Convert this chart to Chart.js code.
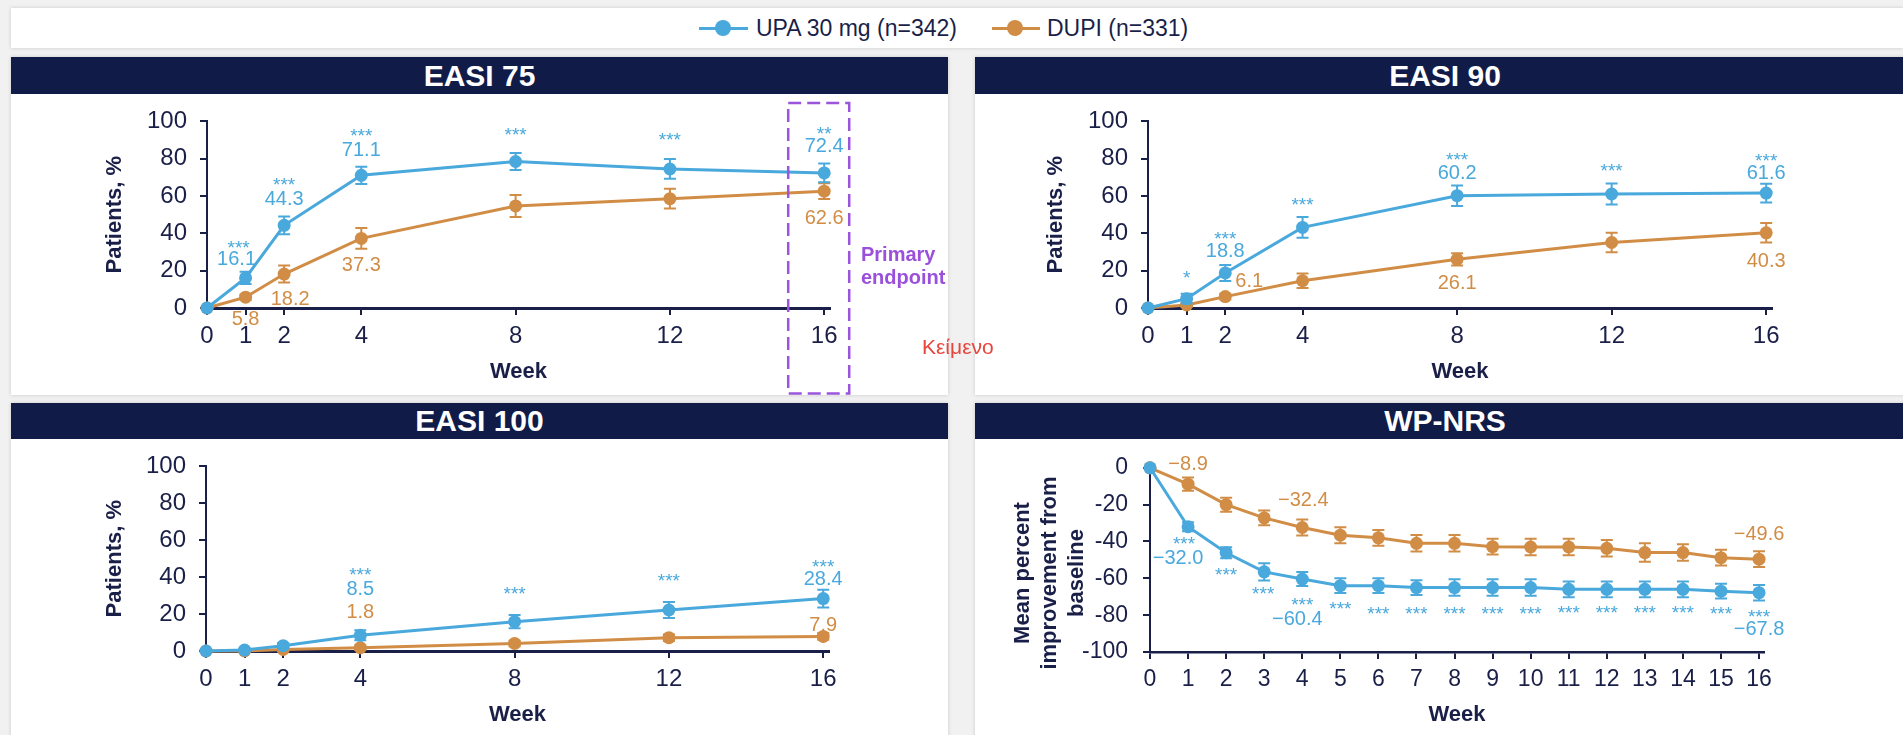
<!DOCTYPE html>
<html>
<head>
<meta charset="utf-8">
<script src="https://cdn.jsdelivr.net/npm/chart.js@4.4.1/dist/chart.umd.min.js"></script>
<style>
html,body{margin:0;padding:0;}
body{width:1903px;height:735px;background:#f1f1f1;position:relative;overflow:hidden;font-family:"Liberation Sans",Arial,Helvetica,sans-serif;}
.box{position:absolute;background:#fff;box-shadow:0 0 4px rgba(0,0,0,0.16);}
.hdr{position:absolute;left:0;top:0;right:0;background:#101c47;color:#fff;font-weight:bold;font-size:30px;text-align:center;}
canvas{position:absolute;}
.leg{position:absolute;color:#1a1f48;font-size:23px;line-height:40px;top:8px;white-space:nowrap;}
.legline{position:absolute;height:3px;top:27px;}
.legdot{position:absolute;width:16px;height:16px;border-radius:50%;top:20px;}
.note{position:absolute;white-space:nowrap;}
</style>
</head>
<body>
<div class="box" style="left:11px;top:8px;width:1892px;height:40px;"></div>
<div class="legline" style="left:699px;width:49px;background:#49a8dc;"></div>
<div class="legdot" style="left:715px;background:#49a8dc;"></div>
<div class="leg" id="legUpa" style="left:756px;"></div>
<div class="legline" style="left:992px;width:48px;background:#d18d45;"></div>
<div class="legdot" style="left:1007px;background:#d18d45;"></div>
<div class="leg" id="legDupi" style="left:1047px;"></div>

<div class="box" style="left:11px;top:57px;width:937px;height:338px;"><div class="hdr" style="height:37px;line-height:37px;">EASI 75</div></div>
<div class="box" style="left:975px;top:57px;width:940px;height:338px;"><div class="hdr" style="height:37px;line-height:37px;">EASI 90</div></div>
<div class="box" style="left:11px;top:403px;width:937px;height:340px;"><div class="hdr" style="height:36px;line-height:36px;">EASI 100</div></div>
<div class="box" style="left:975px;top:403px;width:940px;height:340px;"><div class="hdr" style="height:36px;line-height:36px;">WP-NRS</div></div>

<canvas id="c1" width="937" height="301" style="left:11px;top:94px;"></canvas>
<canvas id="c2" width="928" height="301" style="left:975px;top:94px;"></canvas>
<canvas id="c3" width="937" height="296" style="left:11px;top:439px;"></canvas>
<canvas id="c4" width="928" height="296" style="left:975px;top:439px;"></canvas>

<div class="note" style="left:861px;top:243px;font-weight:bold;font-size:20px;line-height:23px;color:#9a50da;">Primary<br>endpoint</div>
<div class="note" style="left:922px;top:334px;font-size:21px;line-height:26px;color:#e8453c;">Κείμενο</div>

<script>
// ---------- data ----------
const seriesNames = ['UPA 30 mg (n=342)', 'DUPI (n=331)'];

const pctTicks = [0, 20, 40, 60, 80, 100];
const wpTicks = [-100, -80, -60, -40, -20, 0];

const easiWeeks = [0, 1, 2, 4, 8, 12, 16];
const wpWeeks = [0, 1, 2, 3, 4, 5, 6, 7, 8, 9, 10, 11, 12, 13, 14, 15, 16];

// EASI 75
const easi75Upa = [0, 16.1, 44.3, 71.1, 78.5, 74.5, 72.4];
const easi75UpaErr = [0, 3.3, 4.8, 4.6, 4.6, 5.3, 5.0];
const easi75Dupi = [0, 5.8, 18.2, 37.3, 54.7, 58.6, 62.6];
const easi75DupiErr = [0, 1.5, 4.6, 5.6, 5.9, 5.3, 4.2];
const easi75UpaText = ['', '16.1', '44.3', '71.1', '', '', '72.4'];
const easi75Stars = ['', '***', '***', '***', '***', '***', '**'];
const easi75DupiText = ['', '5.8', '18.2', '37.3', '', '', '62.6'];

// EASI 90
const easi90Upa = [0, 5.0, 18.8, 43.2, 60.2, 61.1, 61.6];
const easi90UpaErr = [0, 2.6, 4.3, 5.6, 5.5, 5.6, 5.0];
const easi90Dupi = [0, 1.6, 6.1, 14.6, 26.1, 35.1, 40.3];
const easi90DupiErr = [0, 1.0, 1.5, 3.9, 3.3, 5.2, 5.2];
const easi90UpaText = ['', '', '18.8', '', '60.2', '', '61.6'];
const easi90Stars = ['', '*', '***', '***', '***', '***', '***'];
const easi90DupiText = ['', '', '6.1', '', '26.1', '', '40.3'];

// EASI 100
const easi100Upa = [0, 0.5, 2.9, 8.5, 15.9, 22.2, 28.4];
const easi100UpaErr = [0, 0.8, 1.5, 2.7, 3.6, 4.3, 4.8];
const easi100Dupi = [0, 0, 0.8, 1.8, 4.1, 7.2, 7.9];
const easi100DupiErr = [0, 0, 0.8, 1.2, 1.5, 1.8, 1.8];
const easi100UpaText = ['', '', '', '8.5', '', '', '28.4'];
const easi100Stars = ['', '', '', '***', '***', '***', '***'];
const easi100DupiText = ['', '', '', '1.8', '', '', '7.9'];

// WP-NRS
const wpUpa = [0, -32.0, -46.1, -56.5, -60.4, -64.0, -64.0, -65.0, -65.0, -65.0, -65.0, -66.0, -66.0, -66.0, -66.0, -67.0, -67.8];
const wpUpaErr = [0, 2.5, 3.0, 4.7, 3.8, 4.0, 4.0, 4.0, 4.5, 4.5, 4.5, 4.3, 4.3, 4.3, 4.3, 4.0, 4.2];
const wpDupi = [0, -8.9, -20.0, -27.2, -32.4, -36.6, -38.0, -41.0, -41.0, -42.8, -43.0, -43.0, -43.7, -46.0, -46.0, -48.8, -49.6];
const wpDupiErr = [0, 3.6, 3.8, 4.0, 4.3, 4.3, 4.3, 4.5, 4.5, 4.3, 4.5, 4.5, 4.5, 5.0, 4.5, 4.3, 4.3];
const wpUpaText = ['', '\u221232.0', '', '', '\u221260.4', '', '', '', '', '', '', '', '', '', '', '', '\u221267.8'];
const wpStars = ['', '***', '***', '***', '***', '***', '***', '***', '***', '***', '***', '***', '***', '***', '***', '***', '***'];
const wpDupiText = ['', '\u22128.9', '', '', '\u221232.4', '', '', '', '', '', '', '', '', '', '', '', '\u221249.6'];

const easiYTitle = 'Patients, %';
const wpYTitle = ['Mean percent', 'improvement from', 'baseline'];
const xTitle = 'Week';

// ---------- styling / layout ----------
const FONT = '"Liberation Sans", Arial, Helvetica, sans-serif';
const BLUE = '#49a8dc';
const ORANGE = '#d18d45';
const NAVY = '#1a1f48';

document.getElementById('legUpa').textContent = seriesNames[0];
document.getElementById('legDupi').textContent = seriesNames[1];

// label pixel offsets relative to their point [dx, dy]
const easi75Off = {
  upa: {1: [-9, -20], 2: [0, -28], 3: [0, -27], 6: [0, -28]},
  stars: {1: [-7, -35], 2: [0, -45], 3: [0, -44], 4: [0, -32], 5: [0, -34], 6: [0, -44]},
  dupi: {1: [0, 21], 2: [6, 24], 3: [0, 25], 6: [0, 26]}
};
const easi90Off = {
  upa: {2: [0, -23], 4: [0, -24], 6: [0, -21]},
  stars: {1: [0, -26], 2: [0, -39], 3: [0, -27], 4: [0, -41], 5: [0, -28], 6: [0, -37]},
  dupi: {2: [24, -17], 4: [0, 23], 6: [0, 27]}
};
const easi100Off = {
  upa: {3: [0, -48], 6: [0, -21]},
  stars: {3: [0, -65], 4: [0, -33], 5: [0, -34], 6: [0, -37]},
  dupi: {3: [0, -37], 6: [0, -13]}
};
const wpOff = {
  upa: {1: [-10, 30], 4: [-5, 39], 16: [0, 35]},
  stars: {1: [-4, 12], 2: [0, 17], 3: [-1, 17], 4: [0, 21], 5: [0, 18], 6: [0, 23], 7: [0, 21], 8: [0, 21], 9: [0, 21], 10: [0, 21],
          11: [0, 19], 12: [0, 19], 13: [0, 19], 14: [0, 19], 15: [0, 18], 16: [0, 19]},
  dupi: {1: [0, -21], 4: [1, -29], 16: [0, -26]}
};

const errorBarPlugin = {
  id: 'errorBars',
  beforeDatasetDraw(chart, args) {
    const ds = chart.data.datasets[args.index];
    if (!ds.errors) return;
    const y = chart.scales.y;
    const ctx = chart.ctx;
    ctx.save();
    ctx.strokeStyle = ds.borderColor;
    ctx.lineWidth = 2;
    args.meta.data.forEach((pt, i) => {
      const e = ds.errors[i];
      if (!e) return;
      const v = ds.data[i].y;
      const y1 = y.getPixelForValue(v + e), y2 = y.getPixelForValue(v - e);
      ctx.beginPath();
      ctx.moveTo(pt.x, y1); ctx.lineTo(pt.x, y2);
      ctx.moveTo(pt.x - 6, y1); ctx.lineTo(pt.x + 6, y1);
      ctx.moveTo(pt.x - 6, y2); ctx.lineTo(pt.x + 6, y2);
      ctx.stroke();
    });
    ctx.restore();
  }
};

const valueLabelPlugin = {
  id: 'valueLabels',
  afterDatasetsDraw(chart, args, opts) {
    const ctx = chart.ctx;
    (opts.items || []).forEach(item => {
      const meta = chart.getDatasetMeta(item.series);
      ctx.save();
      ctx.fillStyle = item.color;
      ctx.font = item.size + 'px ' + FONT;
      ctx.textAlign = 'center';
      ctx.textBaseline = 'alphabetic';
      const shift = item.stars ? item.size * 0.58 : item.size * 0.36;
      item.texts.forEach((t, i) => {
        if (!t) return;
        const pt = meta.data[i];
        const off = item.offsets[i] || [0, 0];
        ctx.fillText(t, pt.x + off[0], pt.y + off[1] + shift);
      });
      ctx.restore();
    });
  }
};

const extrasPlugin = {
  id: 'extras',
  afterDraw(chart, args, opts) {
    const ctx = chart.ctx;
    if (opts.box) {
      const b = opts.box;
      const x = chart.scales.x.getPixelForValue(b.week);
      ctx.save();
      ctx.strokeStyle = b.color;
      ctx.lineWidth = 2.5;
      ctx.setLineDash([13, 6]);
      ctx.strokeRect(x + b.left, b.top, b.right - b.left, b.bottom - b.top);
      ctx.restore();
    }
    if (opts.yTitle) {
      const t = opts.yTitle;
      ctx.save();
      ctx.translate(t.x, t.y);
      ctx.rotate(-Math.PI / 2);
      ctx.font = 'bold 22px ' + FONT;
      ctx.fillStyle = NAVY;
      ctx.textAlign = 'center';
      ctx.textBaseline = 'middle';
      t.lines.forEach((l, i) => ctx.fillText(l, 0, i * t.lh));
      ctx.restore();
    }
  }
};

function buildChart(id, o) {
  const mk = (vals) => o.weeks.map((w, i) => ({x: w, y: vals[i]}));
  return new Chart(document.getElementById(id), {
    type: 'line',
    data: {
      datasets: [
        {label: seriesNames[0], data: mk(o.upa), errors: o.upaErr, borderColor: BLUE, backgroundColor: BLUE,
         borderWidth: 3, pointRadius: 6.5, pointHoverRadius: 6.5, pointBorderWidth: 0, clip: false, tension: 0},
        {label: seriesNames[1], data: mk(o.dupi), errors: o.dupiErr, borderColor: ORANGE, backgroundColor: ORANGE,
         borderWidth: 3, pointRadius: 6.5, pointHoverRadius: 6.5, pointBorderWidth: 0, clip: false, tension: 0}
      ]
    },
    options: {
      responsive: false,
      animation: false,
      events: [],
      layout: {padding: {left: 0, top: o.area.top, right: o.w - o.area.right, bottom: 0}},
      plugins: {
        legend: {display: false},
        tooltip: {enabled: false},
        valueLabels: {items: [
          {series: 1, texts: o.dupiText, offsets: o.off.dupi, color: ORANGE, size: 20},
          {series: 0, texts: o.upaText, offsets: o.off.upa, color: BLUE, size: 20},
          {series: 0, texts: o.stars, offsets: o.off.stars, color: BLUE, size: 19, stars: true}
        ]},
        extras: {box: o.box || null, yTitle: o.yTitleLines || null}
      },
      scales: {
        x: {
          type: 'linear', min: 0, max: o.xmax,
          afterBuildTicks: s => { s.ticks = o.weeks.map(v => ({value: v})); },
          afterFit: s => { s.height = o.h - o.area.bottom; },
          grid: {display: true, drawOnChartArea: false, drawTicks: true, tickLength: 7, color: NAVY, lineWidth: 2},
          border: {display: true, color: NAVY, width: o.xBorder},
          ticks: {color: NAVY, font: {size: o.tickSize, family: FONT}, padding: 7, maxRotation: 0, autoSkip: false,
                  callback: v => String(v)},
          title: {display: true, text: xTitle, color: NAVY, font: {size: 22, weight: 'bold', family: FONT, lineHeight: 1.2},
                  padding: {top: 0, bottom: o.xTitlePad}}
        },
        y: {
          type: 'linear', min: o.yMin, max: o.yMax,
          afterBuildTicks: s => { s.ticks = o.yTicks.map(v => ({value: v})); },
          afterFit: s => { s.width = o.area.left; },
          grid: {display: true, drawOnChartArea: false, drawTicks: true, tickLength: 7, color: NAVY, lineWidth: 2},
          border: {display: true, color: NAVY, width: 2},
          ticks: {color: NAVY, font: {size: o.tickSize, family: FONT}, padding: o.yTickPad, callback: v => String(v)},
          title: {display: !!o.yTitle, text: o.yTitle || '', color: NAVY,
                  font: {size: 22, weight: 'bold', family: FONT, lineHeight: 1.2},
                  padding: {top: o.yTitlePad || 0, bottom: 0}}
        }
      }
    },
    plugins: [errorBarPlugin, valueLabelPlugin, extrasPlugin]
  });
}

buildChart('c1', {
  w: 937, h: 301, area: {left: 196, top: 24, right: 819, bottom: 214}, xmax: 16.15,
  weeks: easiWeeks, upa: easi75Upa, upaErr: easi75UpaErr, dupi: easi75Dupi, dupiErr: easi75DupiErr,
  upaText: easi75UpaText, stars: easi75Stars, dupiText: easi75DupiText, off: easi75Off,
  yMin: 0, yMax: 100, yTicks: pctTicks, tickSize: 24, yTickPad: 13, xBorder: 3,
  yTitle: easiYTitle, yTitlePad: 90.8, xTitlePad: 9.8,
  box: {week: 16, left: -36, right: 25, top: 9, bottom: 299.5, color: '#9b55dc'}
});
buildChart('c2', {
  w: 928, h: 301, area: {left: 173, top: 22, right: 797, bottom: 214}, xmax: 16.15,
  weeks: easiWeeks, upa: easi90Upa, upaErr: easi90UpaErr, dupi: easi90Dupi, dupiErr: easi90DupiErr,
  upaText: easi90UpaText, stars: easi90Stars, dupiText: easi90DupiText, off: easi90Off,
  yMin: 0, yMax: 100, yTicks: pctTicks, tickSize: 24, yTickPad: 13, xBorder: 3,
  yTitle: easiYTitle, yTitlePad: 67.8, xTitlePad: 9.8
});
buildChart('c3', {
  w: 937, h: 296, area: {left: 195, top: 27, right: 818, bottom: 212}, xmax: 16.15,
  weeks: easiWeeks, upa: easi100Upa, upaErr: easi100UpaErr, dupi: easi100Dupi, dupiErr: easi100DupiErr,
  upaText: easi100UpaText, stars: easi100Stars, dupiText: easi100DupiText, off: easi100Off,
  yMin: 0, yMax: 100, yTicks: pctTicks, tickSize: 24, yTickPad: 13, xBorder: 3,
  yTitle: easiYTitle, yTitlePad: 90.8, xTitlePad: 6.8
});
buildChart('c4', {
  w: 928, h: 296, area: {left: 175, top: 27, right: 789, bottom: 213}, xmax: 16.13,
  weeks: wpWeeks, upa: wpUpa, upaErr: wpUpaErr, dupi: wpDupi, dupiErr: wpDupiErr,
  upaText: wpUpaText, stars: wpStars, dupiText: wpDupiText, off: wpOff,
  yMin: -100, yMax: 0, yTicks: wpTicks, tickSize: 23, yTickPad: 15, xBorder: 2.5,
  yTitle: null, xTitlePad: 6.8,
  yTitleLines: {lines: wpYTitle, x: 48, y: 134, lh: 27}
});
</script>
</body>
</html>
